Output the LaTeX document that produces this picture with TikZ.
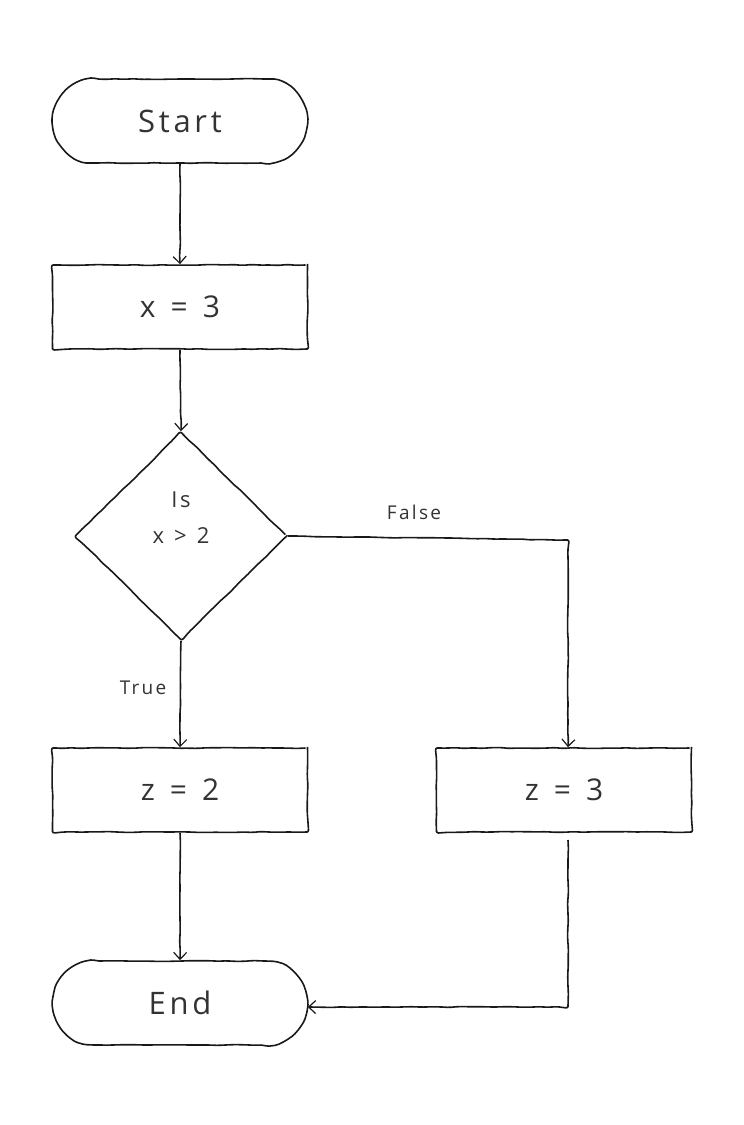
\documentclass[tikz,border=0pt]{standalone}
\usepackage{fontspec}
\setmainfont{Open Sans}
\newfontfamily\widefont[LetterSpace=12]{Open Sans}
\newcommand\boxlabelfont{\widefont\fontsize{30}{32}\selectfont\spaceskip=15pt\relax}
\newcommand\questionfont{\widefont\fontsize{22}{36}\selectfont\spaceskip=10pt\relax}
\usetikzlibrary{shapes.misc,shapes.geometric,arrows.meta,decorations.pathmorphing}
\begin{document}
\pgfmathsetseed{11}
\begin{tikzpicture}[x=1pt,y=-1pt,
  sketch/.style={decorate,decoration={random steps,segment length=9pt,amplitude=0.45pt},rounded corners=2pt},
  ink/.style={draw=black!90,line width=1.6pt},
  terminal/.style={rounded rectangle,ink,sketch,minimum width=254pt,minimum height=84pt,inner sep=0pt,
    font=\widefont\fontsize{31}{34}\selectfont,text=black!80},
  process/.style={rectangle,ink,sketch,minimum width=255pt,minimum height=84pt,inner sep=0pt,
    font=\boxlabelfont,text=black!80},
  decision/.style={diamond,ink,sketch,minimum width=212pt,minimum height=208pt,inner sep=0pt},
  dtext/.style={font=\questionfont,text=black!80,align=center},
  flow/.style={ink,sketch,-{Straight Barb[length=7pt,width=13pt,line width=1.2pt]}},
  branch/.style={font=\widefont\fontsize{19}{22}\selectfont,text=black!80}
]
\useasboundingbox (0,0) rectangle (744,1125);

% nodes
\node[terminal] (start) at (180,121) {Start};
\node[process]  (xset)  at (180,307) {x = 3};
\node[decision] (test)  at (181,536) {};
\node[dtext]    (testq) at (181,518) {Is\\x > 2};
\node[process]  (ztwo)  at (180,790) {z = 2};
\node[process]  (zthree) at (564,790) {z = 3};
\node[terminal] (stop)  at (180,1003) {End};

% connectors
\draw[flow] (start.south) -- (xset.north);
\draw[flow] (xset.south) -- (test.north);
\draw[flow] (test.south) -- (ztwo.north);
\coordinate (fcorner) at (568,540);
\draw[flow] (test.east) -- (fcorner) -- (fcorner |- zthree.north);
\draw[flow] (ztwo.south) -- (stop.north);
\coordinate (ecorner) at (568,1007);
\draw[flow] (568,840) -- (ecorner) -- (stop.east |- ecorner);

% branch labels
\node[branch] (lfalse) at (414,512) {False};
\node[branch] (ltrue)  at (143,688) {True};
\end{tikzpicture}
\end{document}
